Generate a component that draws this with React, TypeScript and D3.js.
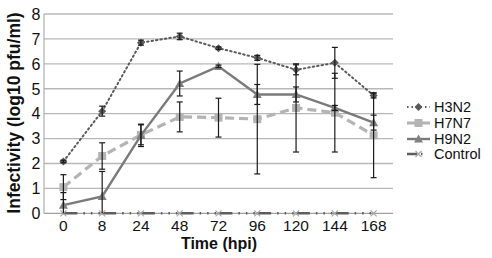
import React from "react";
import * as d3 from "d3";

const categories = ["0", "8", "24", "48", "72", "96", "120", "144", "168"];
const yTicks = [0, 1, 2, 3, 4, 5, 6, 7, 8];

const h3n2 = [2.08, 4.1, 6.85, 7.1, 6.63, 6.24, 5.76, 6.04, 4.73];
const h3n2Err = [0.05, 0.2, 0.1, 0.13, 0.05, 0.1, 0.2, 0.62, 0.1];
const h7n7 = [1.05, 2.3, 3.15, 3.87, 3.84, 3.78, 4.23, 4.04, 3.13];
const h7n7Err = [0.5, 0.53, 0.4, 0.6, 0.78, 2.2, 1.77, 1.58, 1.7];
const h9n2 = [0.33, 0.68, 3.13, 5.21, 5.9, 4.77, 4.77, 4.23, 3.64];
const h9n2Err = [0.5, 1.0, 0.45, 0.5, 0.05, 0.4, 0.3, 0.1, 0.3];
const control = [0, 0, 0, 0, 0, 0, 0, 0, 0];
const controlErr = [0, 0, 0, 0, 0, 0, 0, 0, 0];

const seriesNames = ["H3N2", "H7N7", "H9N2", "Control"];

const W = 492;
const H = 258;
const left = 44;
const right = 393;
const top = 14;
const bottom = 213.3;
const FONT = "'Liberation Sans', Arial, sans-serif";

type Style = {
  color: string;
  width: number;
  dash: string;
  marker: string;
  markerColor: string;
};

const styles: Style[] = [
  { color: "#5a5a5a", width: 2, dash: "1.5 3", marker: "diamond", markerColor: "#5a5a5a" },
  { color: "#b4b4b4", width: 3.2, dash: "9 5", marker: "square", markerColor: "#b4b4b4" },
  { color: "#7a7a7a", width: 2.4, dash: "", marker: "triangle", markerColor: "#808080" },
  { color: "#5e5e5e", width: 2.4, dash: "14 6 1.5 6 1.5 6 1.5 2.25", marker: "cross", markerColor: "#a8a8a8" },
];

function Marker({ type, x, y, color }: { type: string; x: number; y: number; color: string }) {
  if (type === "diamond") {
    const s = 4;
    return <path d={`M${x},${y - s}L${x + s},${y}L${x},${y + s}L${x - s},${y}Z`} fill={color} />;
  }
  if (type === "square") {
    const s = 4;
    return <rect x={x - s} y={y - s} width={2 * s} height={2 * s} fill={color} />;
  }
  if (type === "triangle") {
    const s = 4.5;
    return <path d={`M${x},${y - s}L${x + s},${y + s * 0.8}L${x - s},${y + s * 0.8}Z`} fill={color} />;
  }
  const s = 3;
  return (
    <path
      d={`M${x - s},${y - s}L${x + s},${y + s}M${x - s},${y + s}L${x + s},${y - s}`}
      stroke={color}
      strokeWidth={1.2}
    />
  );
}

export default function App() {
  const x = d3.scaleBand<string>().domain(categories).range([left, right]);
  const y = d3.scaleLinear().domain([0, 8]).range([bottom, top]);
  const cx = (c: string) => (x(c) as number) + x.bandwidth() / 2;

  const data = [h3n2, h7n7, h9n2, control];
  const errs = [h3n2Err, h7n7Err, h9n2Err, controlErr];

  const line = d3
    .line<number>()
    .x((_, i) => cx(categories[i]))
    .y((d) => y(d));

  const legendY = [107, 123, 139, 154];

  return (
    <svg width={W} height={H} style={{ position: "absolute", left: 0, top: 0 }} fontFamily={FONT}>
      <rect width={W} height={H} fill="#fff" />
      {yTicks.slice(1).map((t) => (
        <line key={t} x1={left} x2={right} y1={y(t)} y2={y(t)} stroke="#b8b8b8" strokeWidth={1.3} />
      ))}
      <line x1={left} x2={left} y1={top} y2={bottom} stroke="#a0a0a0" strokeWidth={1} />
      <line x1={left} x2={right} y1={y(0)} y2={y(0)} stroke="#a0a0a0" strokeWidth={1.3} />
      {yTicks.map((t) => (
        <text key={t} x={40.5} y={y(t) + 5.8} textAnchor="end" fontSize={16} fill="#111">
          {t}
        </text>
      ))}
      {categories.map((c) => (
        <text key={c} x={cx(c)} y={231} textAnchor="middle" fontSize={15.5} fill="#111">
          {c}
        </text>
      ))}
      <text x={219} y={249} textAnchor="middle" fontSize={16} fontWeight="bold" fill="#111">
        Time (hpi)
      </text>
      <text
        transform={`translate(19.5,113) rotate(-90)`}
        textAnchor="middle"
        fontSize={17.5}
        fontWeight="bold"
        fill="#111"
      >
        Infectivity (log10 pfu/ml)
      </text>

      {data.map((d, si) => (
        <g key={si}>
          <path
            d={line(d) as string}
            fill="none"
            stroke={styles[si].color}
            strokeWidth={styles[si].width}
            strokeDasharray={styles[si].dash || undefined}
            strokeLinecap={si === 0 ? "round" : "butt"}
          />
          {d.map((v, i) => (
            <Marker key={i} type={styles[si].marker} x={cx(categories[i])} y={y(v)} color={styles[si].markerColor} />
          ))}
        </g>
      ))}

      {data.map((d, si) =>
        d.map((v, i) => {
          const e = errs[si][i];
          if (e <= 0) return null;
          const px = cx(categories[i]);
          const hi = y(v + e);
          const loVal = v - e;
          const lo = y(Math.max(0, loVal));
          return (
            <g key={`${si}-${i}`} stroke="#1a1a1a" strokeWidth={1.2}>
              <line x1={px} x2={px} y1={hi} y2={lo} />
              <line x1={px - 3} x2={px + 3} y1={hi} y2={hi} />
              {loVal >= 0 && <line x1={px - 3} x2={px + 3} y1={lo} y2={lo} />}
            </g>
          );
        })
      )}

      {seriesNames.map((n, si) => {
        const ly = legendY[si];
        return (
          <g key={n}>
            <line
              x1={407}
              x2={430}
              y1={ly}
              y2={ly}
              stroke={styles[si].color}
              strokeWidth={styles[si].width}
              strokeDasharray={si === 3 ? "10 4 1.5 20" : styles[si].dash || undefined}
            />
            <Marker type={styles[si].marker} x={418.5} y={ly} color={styles[si].markerColor} />
            <text x={434} y={ly + 5} fontSize={14.5} fill="#111">
              {n}
            </text>
          </g>
        );
      })}
    </svg>
  );
}
